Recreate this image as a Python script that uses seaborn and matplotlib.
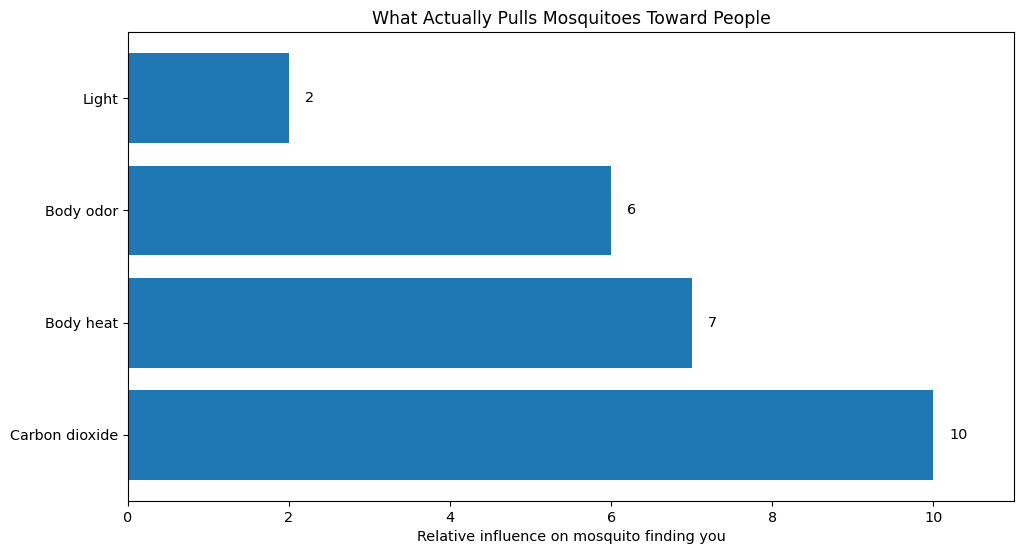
import matplotlib
matplotlib.use("Agg")
import matplotlib.pyplot as plt
import seaborn as sns
import pandas as pd

factors = ["Light", "Body odor", "Body heat", "Carbon dioxide"]
influence = [2, 6, 7, 10]

df = pd.DataFrame({"factor": factors, "influence": influence})

plt.rcParams["font.size"] = 10.4

fig, ax = plt.subplots(figsize=(10.24, 5.57), dpi=100)
sns.barplot(data=df, x="influence", y="factor", orient="h", color="#1f77b4",
            saturation=1, width=0.8, ax=ax)

for i, v in enumerate(influence):
    ax.text(v + 0.2, i, str(v), va="center", fontsize=10.4)

ax.set_xlim(0, 11)
ax.set_ylim(len(factors) - 0.41, -0.59)
ax.tick_params(labelsize=10.4)
ax.set_xlabel("Relative influence on mosquito finding you", fontsize=10.4)
ax.set_ylabel("")
ax.set_title("What Actually Pulls Mosquitoes Toward People", fontsize=12.45)

fig.subplots_adjust(left=0.125, right=0.99, top=0.9425, bottom=0.1005)
fig.savefig("out.png", dpi=100)
